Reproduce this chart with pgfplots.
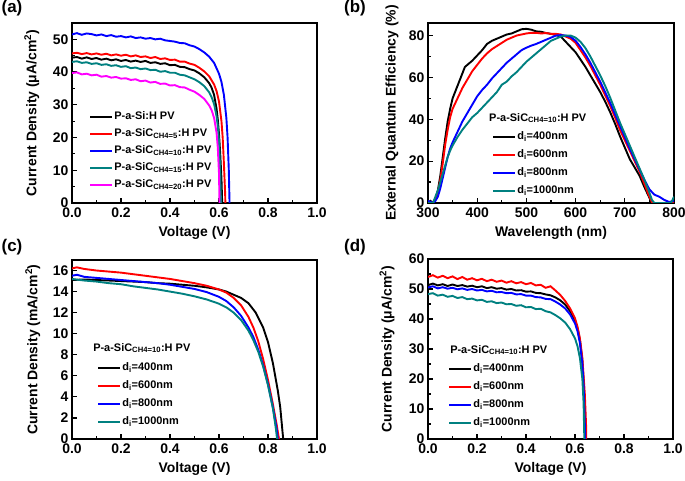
\documentclass[border=0pt]{standalone}
\usepackage{fontspec}
\setmainfont{Liberation Sans}
\usepackage{pgfplots}
\pgfplotsset{compat=1.18}
\definecolor{cteal}{RGB}{0,128,128}
\definecolor{cred}{RGB}{255,0,0}
\definecolor{cblue}{RGB}{0,0,255}
\definecolor{cmag}{RGB}{255,0,255}
\tikzset{ttl/.style={anchor=west, font=\fontsize{11}{12}\selectfont\bfseries, inner sep=0pt}}
\pgfplotsset{
 myax/.style={
  scale only axis,
  axis line style={line width=1.5bp},
  tick align=inside, tick pos=left,
  major tick length=5bp, minor tick length=3bp,
  every tick/.style={black, line width=1.2bp},
  minor tick num=1,
  /pgf/number format/assume math mode=true,
  ticklabel style={font=\fontsize{14}{16}\selectfont\bfseries},
  x tick label style={yshift=-1bp},
  label style={font=\fontsize{14}{16}\selectfont\bfseries},
  every axis plot/.append style={line width=1.9bp, no markers},
  legend style={draw=none, fill=none, inner sep=0pt, anchor=north west, row sep=5bp,
    font=\fontsize{11}{12}\selectfont\bfseries,
    nodes={inner sep=1pt, text height=8bp, text depth=3bp}},
  legend cell align=left,
  legend image code/.code={\draw[##1, line width=2.2bp] (0bp,0bp) -- (22bp,0bp);},
  xlabel style={at={(axis description cs:0.5,-0.167)}, anchor=center},
 },
 vx/.style={xmin=0, xmax=1, xtick={0,0.2,0.4,0.6,0.8,1},
  x tick label style={/pgf/number format/fixed, /pgf/number format/fixed zerofill, /pgf/number format/precision=1},
  xlabel={Voltage (V)}},
}
\begin{document}
\begin{tikzpicture}[x=1bp,y=1bp]
\useasboundingbox (0,0) rectangle (685,481);
% (a)
\begin{axis}[myax, vx, at={(72bp,278bp)}, width=245bp, height=180bp,
  ymin=0, ymax=55, ytick={0,10,20,30,40,50},
  ylabel={Current Density (μA/cm\textsuperscript{2})},
  ylabel style={at={(axis description cs:-0.164,0.5)}, anchor=center},
  legend style={at={(0.069,0.514)}, row sep=4bp}]
\addplot[black] coordinates {(0,44.4)(0.02,44.6)(0.04,44.1)(0.06,44.5)(0.08,44.0)(0.10,44.3)(0.12,43.8)(0.14,44.1)(0.16,43.6)(0.18,43.9)(0.20,43.4)(0.22,43.7)(0.24,43.2)(0.26,43.5)(0.28,43.1)(0.30,43.4)(0.32,42.8)(0.34,43.0)(0.36,42.5)(0.38,42.7)(0.40,42.1)(0.42,42.2)(0.44,41.6)(0.46,41.5)(0.48,40.9)(0.50,40.5)(0.52,39.6)(0.54,38.4)(0.56,36.6)(0.57,35.2)(0.58,33.0)(0.59,28.8)(0.595,25.5)(0.60,21.0)(0.605,15.0)(0.61,7.5)(0.613,0)};
\addlegendentry{P-a-Si:H PV}
\addplot[cred] coordinates {(0,45.7)(0.02,45.9)(0.04,45.5)(0.06,45.8)(0.08,45.4)(0.10,45.7)(0.12,45.3)(0.14,45.6)(0.16,45.1)(0.18,45.4)(0.20,45.0)(0.22,45.3)(0.24,44.8)(0.26,45.1)(0.28,44.6)(0.30,44.8)(0.32,44.3)(0.34,44.6)(0.36,44.0)(0.38,44.2)(0.40,43.7)(0.42,43.8)(0.44,43.2)(0.46,43.2)(0.48,42.6)(0.50,42.2)(0.52,41.3)(0.54,40.2)(0.56,38.7)(0.58,36.2)(0.59,34.2)(0.60,31.0)(0.61,25.0)(0.615,20.0)(0.62,12.0)(0.625,3.0)(0.626,0)};
\addlegendentry{P-a-SiC\textsubscript{CH4=5}:H PV}
\addplot[cblue] coordinates {(0,51.5)(0.02,51.9)(0.04,51.4)(0.06,51.8)(0.08,51.6)(0.10,51.2)(0.12,51.5)(0.14,51.0)(0.16,51.3)(0.18,50.8)(0.20,51.0)(0.22,50.6)(0.24,50.9)(0.26,50.4)(0.28,50.6)(0.30,50.2)(0.32,50.4)(0.34,50.0)(0.36,50.2)(0.38,49.7)(0.40,49.5)(0.42,49.3)(0.44,48.9)(0.46,48.8)(0.48,48.2)(0.50,47.8)(0.52,47.0)(0.54,46.0)(0.56,44.7)(0.58,42.8)(0.60,39.5)(0.61,37.0)(0.62,33.0)(0.63,26.0)(0.635,20.0)(0.64,10.0)(0.643,0)};
\addlegendentry{P-a-SiC\textsubscript{CH4=10}:H PV}
\addplot[cteal] coordinates {(0,43.1)(0.02,43.3)(0.04,42.8)(0.06,43.0)(0.08,42.5)(0.10,42.7)(0.12,42.2)(0.14,42.4)(0.16,41.9)(0.18,42.1)(0.20,41.6)(0.22,41.8)(0.24,41.2)(0.26,41.4)(0.28,40.9)(0.30,41.1)(0.32,40.6)(0.34,40.7)(0.36,40.1)(0.38,40.3)(0.40,39.8)(0.42,39.8)(0.44,39.2)(0.46,39.0)(0.48,38.4)(0.50,37.8)(0.52,36.9)(0.54,35.7)(0.56,33.8)(0.57,32.3)(0.58,30.2)(0.59,26.5)(0.595,23.5)(0.60,19.0)(0.605,10.0)(0.608,0)};
\addlegendentry{P-a-SiC\textsubscript{CH4=15}:H PV}
\addplot[cmag] coordinates {(0,39.7)(0.02,39.9)(0.04,39.3)(0.06,39.5)(0.08,39.0)(0.10,39.2)(0.12,38.6)(0.14,38.8)(0.16,38.3)(0.18,38.5)(0.20,38.0)(0.22,38.1)(0.24,37.6)(0.26,37.8)(0.28,37.2)(0.30,37.4)(0.32,36.8)(0.34,37.0)(0.36,36.4)(0.38,36.5)(0.40,35.9)(0.42,36.0)(0.44,35.4)(0.46,35.3)(0.48,34.6)(0.50,34.0)(0.52,33.0)(0.54,31.8)(0.56,29.8)(0.57,28.3)(0.58,26.0)(0.59,21.5)(0.595,17.0)(0.60,9.0)(0.602,0)};
\addlegendentry{P-a-SiC\textsubscript{CH4=20}:H PV}
\end{axis}
% (b)
\begin{axis}[myax, at={(428bp,278bp)}, width=246bp, height=180bp,
  xmin=300, xmax=800, xtick={300,400,500,600,700,800},
  ymin=0, ymax=86, ytick={0,20,40,60,80},
  xlabel={Wavelength (nm)}, ylabel={External Quantum Efficiency (\%)},
  ylabel style={at={(axis description cs:-0.146,0.5)}, anchor=center},
  legend style={at={(0.26,0.403)}, row sep=5bp}]
\addplot[black] coordinates {(300,0)(305,1)(310,0)(315,2)(320,6)(325,13)(330,22)(335,31)(340,39)(345,45)(350,50)(355,53)(360,56)(365,59)(370,62)(375,65)(380,66)(390,68)(400,70.5)(410,73)(420,76)(430,77.5)(440,78.5)(450,79.5)(460,80.5)(470,81)(480,82)(490,83)(500,83.2)(510,82.8)(520,82)(530,81.8)(540,81.2)(550,80.8)(560,80.2)(570,79.5)(580,77)(590,74.5)(600,72)(610,68.5)(620,65)(630,61)(640,57)(650,53)(660,48.5)(670,43.5)(680,38)(690,32)(700,26.5)(710,21)(720,17)(730,13)(740,7.5)(750,2.5)(755,0)(760,0)};
\addlegendentry{d\textsubscript{i}=400nm}
\addplot[cred] coordinates {(300,0)(310,0)(315,2)(320,5)(325,11)(330,19)(335,28)(340,35)(345,41)(350,45)(360,50)(370,55)(380,59)(390,63)(400,66)(410,69)(420,71.5)(430,73.5)(440,75)(450,76.5)(460,78)(470,79)(480,80)(490,80.5)(500,81)(510,81.3)(520,81.3)(530,81)(540,81.2)(550,80.8)(560,80.8)(570,80.5)(580,79.5)(590,78.5)(600,76.5)(610,73)(620,69.5)(630,65.5)(640,61)(650,56.5)(660,51.5)(670,46.5)(680,41)(690,35)(700,30)(710,25)(720,20)(730,15)(740,9)(750,3)(755,0.5)(760,0)(780,0)(790,0.5)(800,0)};
\addlegendentry{d\textsubscript{i}=600nm}
\addplot[cblue] coordinates {(300,1)(310,0)(315,1)(320,3)(325,7)(330,12)(335,17)(340,22)(345,26)(350,29)(360,34)(370,39)(380,43)(390,47)(400,51)(410,54)(420,56.5)(430,59.5)(440,62)(450,64.5)(460,67)(470,69)(480,71)(490,73)(500,74.2)(510,75.2)(520,76)(530,77)(540,78)(550,79)(560,80)(570,80.2)(580,80)(590,79.3)(600,77.5)(610,74.5)(620,71)(630,67)(640,62.5)(650,58)(660,53)(670,48)(680,42.5)(690,37)(700,31.5)(710,26)(720,21)(730,16)(740,11)(750,6.5)(760,4)(770,3)(780,1.5)(790,0.5)(800,1)};
\addlegendentry{d\textsubscript{i}=800nm}
\addplot[cteal] coordinates {(300,0)(310,0)(315,3)(320,6)(325,10)(330,14)(335,18)(340,22)(345,25)(350,27.5)(360,31.5)(370,35)(380,38)(390,41)(400,43)(410,45.5)(420,48)(430,50.5)(440,53)(450,56.5)(460,58)(470,60.5)(480,62.5)(490,65)(500,67.5)(510,69.5)(520,71.5)(530,73.5)(540,75.5)(550,77.5)(560,78.5)(570,79.5)(580,80)(590,80)(600,79)(610,77)(620,74)(630,70)(640,65.5)(650,61)(660,56)(670,50.5)(680,44.5)(690,38.5)(700,33)(710,27.5)(720,22)(730,16.5)(740,11)(750,5)(755,1.5)(760,0)(780,0)(790,0)(795,0.5)(800,3)};
\addlegendentry{d\textsubscript{i}=1000nm}
\node[ttl] at (rel axis cs:0.248,0.472) {P-a-SiC\textsubscript{CH4=10}:H PV};
\end{axis}
% (c)
\begin{axis}[myax, vx, at={(72bp,42bp)}, width=245bp, height=179bp,
  ymin=0, ymax=17, ytick={0,2,4,6,8,10,12,14,16}, minor y tick num=0,
  ylabel={Current Density (mA/cm\textsuperscript{2})},
  ylabel style={at={(axis description cs:-0.16,0.5)}, anchor=center},
  legend style={at={(0.102,0.433)}, row sep=5bp}]
\addplot[black] coordinates {(0,15.1)(0.05,15.15)(0.1,15.1)(0.15,15.05)(0.2,15.0)(0.25,14.95)(0.3,14.9)(0.35,14.8)(0.4,14.75)(0.45,14.65)(0.5,14.55)(0.55,14.4)(0.6,14.2)(0.63,14.0)(0.66,13.7)(0.69,13.4)(0.72,12.9)(0.75,12.0)(0.78,10.6)(0.80,9.2)(0.82,7.2)(0.84,4.6)(0.85,3.0)(0.86,0.5)(0.862,0)};
\addlegendentry{d\textsubscript{i}=400nm}
\addplot[cred] coordinates {(0,16.2)(0.02,16.3)(0.05,16.15)(0.1,16.0)(0.15,15.9)(0.2,15.8)(0.25,15.65)(0.3,15.5)(0.35,15.35)(0.4,15.2)(0.45,15.0)(0.5,14.8)(0.55,14.55)(0.6,14.2)(0.63,13.9)(0.66,13.4)(0.69,12.7)(0.72,11.6)(0.74,10.6)(0.76,9.3)(0.78,7.6)(0.80,5.6)(0.82,3.3)(0.835,1.4)(0.845,0)};
\addlegendentry{d\textsubscript{i}=600nm}
\addplot[cblue] coordinates {(0,15.5)(0.02,15.6)(0.05,15.4)(0.1,15.3)(0.15,15.2)(0.2,15.1)(0.25,15.0)(0.3,14.9)(0.35,14.8)(0.4,14.65)(0.45,14.45)(0.5,14.25)(0.55,13.95)(0.6,13.5)(0.63,13.1)(0.66,12.5)(0.69,11.7)(0.72,10.6)(0.74,9.7)(0.76,8.5)(0.78,7.0)(0.80,5.2)(0.82,3.0)(0.835,1.0)(0.84,0)};
\addlegendentry{d\textsubscript{i}=800nm}
\addplot[cteal] coordinates {(0,15.2)(0.05,15.05)(0.1,14.95)(0.15,14.8)(0.2,14.7)(0.25,14.5)(0.3,14.35)(0.35,14.2)(0.4,14.0)(0.45,13.8)(0.5,13.55)(0.55,13.25)(0.6,12.85)(0.63,12.5)(0.66,12.0)(0.69,11.3)(0.72,10.3)(0.74,9.4)(0.76,8.3)(0.78,6.9)(0.80,5.1)(0.82,2.9)(0.832,1.0)(0.837,0)};
\addlegendentry{d\textsubscript{i}=1000nm}
\node[ttl] at (rel axis cs:0.086,0.508) {P-a-SiC\textsubscript{CH4=10}:H PV};
\end{axis}
% (d)
\begin{axis}[myax, vx, at={(428bp,42bp)}, width=245bp, height=180bp,
  ymin=0, ymax=60, ytick={0,10,20,30,40,50,60},
  ylabel={Current Density (μA/cm\textsuperscript{2})},
  ylabel style={at={(axis description cs:-0.167,0.5)}, anchor=center},
  legend style={at={(0.082,0.425)}, row sep=5bp}]
\addplot[black] coordinates {(0,51.3)(0.02,51.8)(0.04,51.2)(0.06,51.6)(0.08,51.0)(0.10,51.5)(0.12,51.0)(0.14,51.3)(0.16,50.8)(0.18,51.1)(0.20,50.6)(0.22,50.9)(0.24,50.3)(0.26,50.6)(0.28,50.1)(0.30,50.3)(0.32,49.8)(0.34,50.0)(0.36,49.5)(0.38,49.6)(0.40,49.1)(0.42,49.2)(0.44,48.7)(0.46,48.6)(0.48,48.2)(0.50,47.9)(0.52,47.2)(0.54,46.2)(0.56,44.8)(0.58,42.6)(0.60,39.5)(0.61,37.0)(0.62,33.0)(0.63,26.0)(0.635,19.0)(0.64,6.0)(0.641,0)};
\addlegendentry{d\textsubscript{i}=400nm}
\addplot[cred] coordinates {(0,54.0)(0.02,54.6)(0.04,53.8)(0.06,54.4)(0.08,53.6)(0.10,54.2)(0.12,53.3)(0.14,54.0)(0.16,53.1)(0.18,53.6)(0.20,52.9)(0.22,53.4)(0.24,52.6)(0.26,53.1)(0.28,52.4)(0.30,52.8)(0.32,52.1)(0.34,52.6)(0.36,51.9)(0.38,52.3)(0.40,51.6)(0.42,52.0)(0.44,51.2)(0.46,51.4)(0.48,50.4)(0.50,50.9)(0.52,49.5)(0.54,48.0)(0.56,46.0)(0.58,43.5)(0.60,40.2)(0.61,37.5)(0.62,33.5)(0.63,27.0)(0.64,15.0)(0.645,5.0)(0.646,0)};
\addlegendentry{d\textsubscript{i}=600nm}
\addplot[cblue] coordinates {(0,50.5)(0.02,50.9)(0.04,50.2)(0.06,50.6)(0.08,50.1)(0.10,50.4)(0.12,49.9)(0.14,50.2)(0.16,49.7)(0.18,50.0)(0.20,49.5)(0.22,49.7)(0.24,49.2)(0.26,49.4)(0.28,48.9)(0.30,49.0)(0.32,48.6)(0.34,48.7)(0.36,48.2)(0.38,48.3)(0.40,47.8)(0.42,47.8)(0.44,47.3)(0.46,47.2)(0.48,46.7)(0.50,46.6)(0.52,45.8)(0.54,44.8)(0.56,43.5)(0.58,41.5)(0.60,38.5)(0.61,36.0)(0.62,32.0)(0.63,25.0)(0.635,18.0)(0.64,5.0)(0.642,0)};
\addlegendentry{d\textsubscript{i}=800nm}
\addplot[cteal] coordinates {(0,48.3)(0.02,48.6)(0.04,47.8)(0.06,48.1)(0.08,47.4)(0.10,47.7)(0.12,47.0)(0.14,47.3)(0.16,46.6)(0.18,46.8)(0.20,46.2)(0.22,46.4)(0.24,45.7)(0.26,45.9)(0.28,45.3)(0.30,45.5)(0.32,44.9)(0.34,45.0)(0.36,44.4)(0.38,44.6)(0.40,43.9)(0.42,44.0)(0.44,43.3)(0.46,43.4)(0.48,42.6)(0.50,42.2)(0.52,41.3)(0.54,40.2)(0.56,38.8)(0.58,36.6)(0.60,33.5)(0.61,31.0)(0.62,27.0)(0.63,20.0)(0.635,12.0)(0.638,0)};
\addlegendentry{d\textsubscript{i}=1000nm}
\node[ttl] at (rel axis cs:0.09,0.494) {P-a-SiC\textsubscript{CH4=10}:H PV};
\end{axis}
\node[font=\fontsize{17}{18}\selectfont\bfseries] at (12,473) {(a)};
\node[font=\fontsize{17}{18}\selectfont\bfseries] at (355,473) {(b)};
\node[font=\fontsize{17}{18}\selectfont\bfseries] at (12,234) {(c)};
\node[font=\fontsize{17}{18}\selectfont\bfseries] at (355,234) {(d)};
\end{tikzpicture}
\end{document}
